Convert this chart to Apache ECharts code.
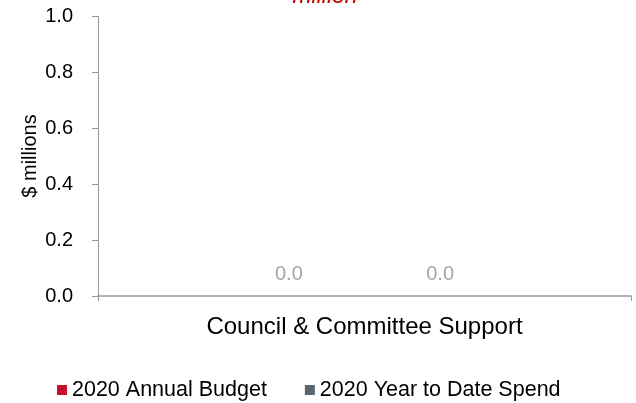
<!DOCTYPE html>
<html><head><meta charset="utf-8">
<script src="https://cdn.jsdelivr.net/npm/echarts@6/dist/echarts.min.js"></script>
<style>html,body{margin:0;padding:0;background:#fff}#c{width:636px;height:403px}</style>
</head><body><div id="c"></div>
<script>
const categories = ['Council & Committee Support'];
const seriesNames = ['2020 Annual Budget', '2020 Year to Date Spend'];
const budget = [0.0];
const ytdSpend = [0.0];
const yTicks = [0, 0.2, 0.4, 0.6, 0.8, 1.0];
const titleText = 'million';

const FONT = '"Liberation Sans", Arial, sans-serif';
const chart = echarts.init(document.getElementById('c'), null, {renderer: 'canvas'});
chart.setOption({
  animation: false,
  textStyle: {fontFamily: FONT},
  graphic: [{
    type: 'text', x: 325, y: 8,
    style: {text: titleText, fill: '#c00000', font: 'italic 23px ' + FONT, textAlign: 'center', textVerticalAlign: 'bottom'}
  }],
  legend: {
    left: 52, top: 374, itemWidth: 10, itemHeight: 10, itemGap: 38,
    icon: 'rect',
    textStyle: {fontSize: 21.5, color: '#000', fontFamily: FONT, padding: [0, 0, 0, 0]},
    data: seriesNames
  },
  grid: {left: 98, right: 5, top: 16, bottom: 107, containLabel: false},
  xAxis: {
    type: 'category', data: categories,
    axisLine: {lineStyle: {color: '#999', width: 1.5}},
    axisTick: {show: true, length: 5, lineStyle: {color: '#999'}},
    axisLabel: {fontSize: 24, color: '#000', margin: 19, fontFamily: FONT}
  },
  yAxis: {
    type: 'value', min: yTicks[0], max: yTicks[yTicks.length - 1], interval: 0.2,
    name: '$ millions', nameLocation: 'middle', nameGap: 58, nameRotate: 90,
    nameMoveOverlap: false,
    nameTextStyle: {fontSize: 20, color: '#000', fontFamily: FONT},
    axisLine: {show: true, lineStyle: {color: '#999'}},
    axisTick: {show: true, length: 6, lineStyle: {color: '#999'}},
    splitLine: {show: false},
    axisLabel: {fontSize: 20, color: '#000', margin: 25, formatter: v => v.toFixed(1), fontFamily: FONT}
  },
  series: [
    {name: seriesNames[0], type: 'bar', data: budget, barWidth: 120, barGap: '26%',
     itemStyle: {color: '#c8102e'},
     label: {show: true, position: 'top', distance: 12, color: '#a6a6a6', fontSize: 20, formatter: p => p.value.toFixed(1)}},
    {name: seriesNames[1], type: 'bar', data: ytdSpend, barWidth: 120,
     itemStyle: {color: '#5a6670'},
     label: {show: true, position: 'top', distance: 12, color: '#a6a6a6', fontSize: 20, formatter: p => p.value.toFixed(1)}}
  ]
});
</script></body></html>
